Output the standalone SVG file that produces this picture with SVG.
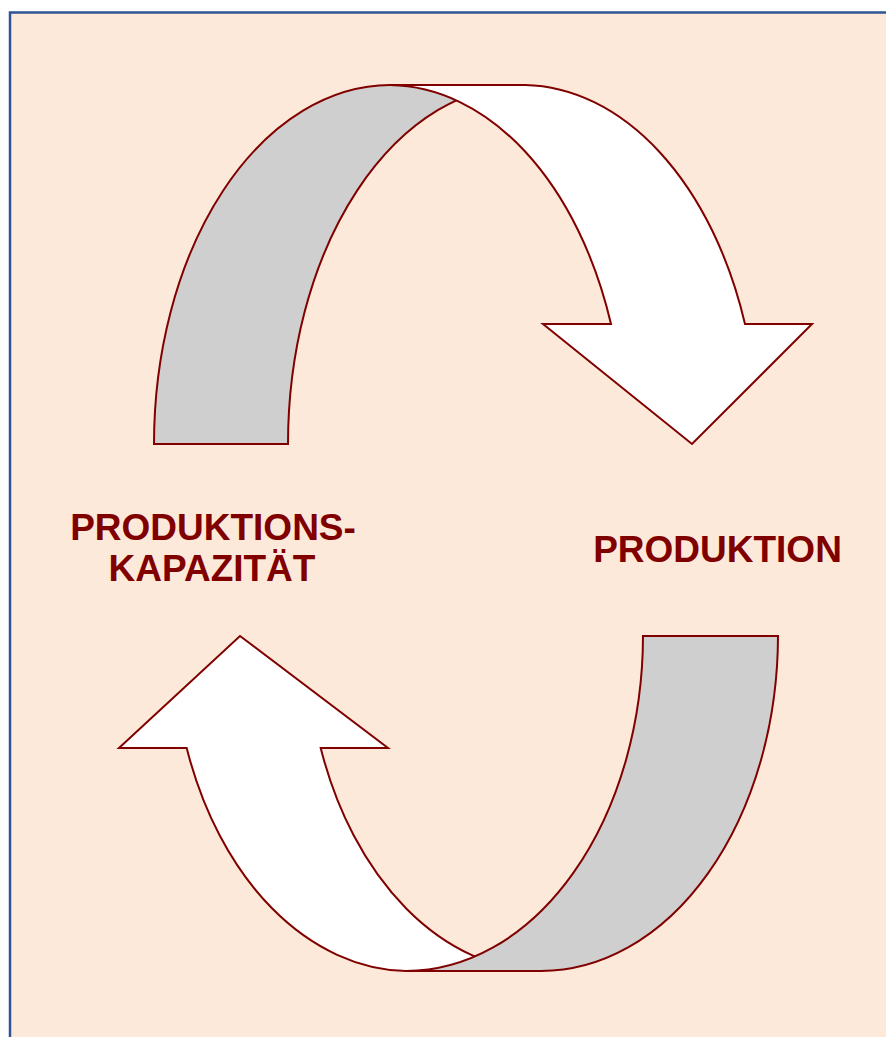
<svg xmlns="http://www.w3.org/2000/svg" width="886" height="1037" viewBox="0 0 886 1037">
  <style>
    .band { stroke: #800000; stroke-width: 2; stroke-linejoin: miter; }
    .back { fill: #CFCFCF; }
    .front { fill: #FFFFFF; }
    .label { font-family: "Liberation Sans", Arial, sans-serif; font-weight: bold; font-size: 37px; fill: #800000; text-anchor: middle; }
  </style>

  <!-- page background and frame -->
  <rect x="0" y="0" width="886" height="1037" fill="#FFFFFF"/>
  <rect x="10" y="12.5" width="900" height="1100" fill="#FDE9D9" stroke="#2F5496" stroke-width="2.5"/>

  <!-- upper curved arrow: from capacity towards production -->
  <g id="arrow-top">
    <path class="band back" d="M154,444 A237,359 0 0 1 390,85 L525,85 A237,359 0 0 0 288,444 Z"/>
    <path class="band front" d="M390,85 L525,85 A237,359 0 0 1 745,324 L812,324 L692,444 L543,324 L611,324 A237,359 0 0 0 390,85 Z"/>
  </g>

  <!-- lower curved arrow: from production back to capacity (grey band lies over the white one) -->
  <g id="arrow-bottom">
    <path class="band front" d="M541,971 L406,971 A237,336 0 0 1 186.7,748 L119,748 L240,636 L388,748 L320.7,748 A237,336 0 0 0 541,971 Z"/>
    <path class="band back" d="M643,636 L778,636 A237,336 0 0 1 541,971 L406,971 A237,336 0 0 0 643,636 Z"/>
  </g>

  <g id="label-kapazitaet">
    <text class="label" x="213" y="539.5">PRODUKTIONS-</text>
    <text class="label" x="212" y="581">KAPAZITÄT</text>
  </g>

  <g id="label-produktion">
    <text class="label" x="717.5" y="562">PRODUKTION</text>
  </g>
</svg>
